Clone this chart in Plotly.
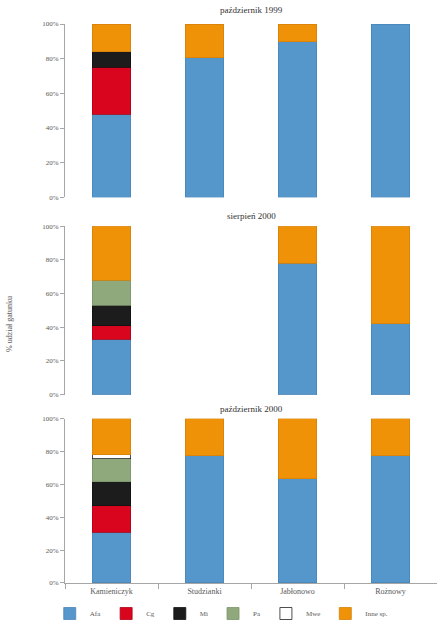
import plotly.graph_objects as go
from plotly.subplots import make_subplots

categories = ["Kamieniczyk", "Studzianki", "Jabłonowo", "Rożnowy"]
series_names = ["Afa", "Cg", "Mi", "Pa", "Mwe", "Inne sp."]
panel_titles = ["październik 1999", "sierpień 2000", "październik 2000"]

# percent values per panel, per series, per category (None = absent)
p1 = {
    "Afa": [48, 80.5, 89.7, 100],
    "Cg": [27, None, None, None],
    "Mi": [9, None, None, None],
    "Pa": [None, None, None, None],
    "Mwe": [None, None, None, None],
    "Inne sp.": [16, 19.5, 10.3, None],
}
p2 = {
    "Afa": [33, None, 78, 42],
    "Cg": [8, None, None, None],
    "Mi": [12, None, None, None],
    "Pa": [15, None, None, None],
    "Mwe": [None, None, None, None],
    "Inne sp.": [32, None, 22, 58],
}
p3 = {
    "Afa": [31, 77.3, 63.3, 77.3],
    "Cg": [16, None, None, None],
    "Mi": [14.5, None, None, None],
    "Pa": [14, None, None, None],
    "Mwe": [2.5, None, None, None],
    "Inne sp.": [22, 22.7, 36.7, 22.7],
}
panels = [p1, p2, p3]
y_ticks = [0, 20, 40, 60, 80, 100]
y_tick_labels = ["0%", "20%", "40%", "60%", "80%", "100%"]

colors = {
    "Afa": "#5596cb",
    "Cg": "#d9041e",
    "Mi": "#1c1c1c",
    "Pa": "#90a97c",
    "Mwe": "#ffffff",
    "Inne sp.": "#ef9207",
}
line_colors = {
    "Afa": "#4a86b8",
    "Cg": "#b00318",
    "Mi": "#111111",
    "Pa": "#7b9468",
    "Mwe": "#222222",
    "Inne sp.": "#d4820a",
}

fig = make_subplots(rows=3, cols=1, vertical_spacing=0.05)

for i, data in enumerate(panels):
    for name in series_names:
        fig.add_trace(
            go.Bar(
                x=categories,
                y=data[name],
                name=name,
                showlegend=(i == 0),
                width=0.41,
                marker=dict(color=colors[name],
                            line=dict(color=line_colors[name], width=0.8)),
            ),
            row=i + 1, col=1,
        )

W, H = 437, 628
L, R, T, B = 65, 0, 24, 43
ph = H - T - B
def py(pix):
    return (H - B - pix) / ph

domains = [[py(198), 1.0], [py(396), py(227)], [0.0, py(420)]]
title_y = [py(10), py(217), py(410)]

font_family = "Liberation Serif"
for i in range(3):
    ax = "" if i == 0 else str(i + 1)
    fig.layout["yaxis" + ax].update(
        domain=domains[i], range=[0, 100], tickvals=y_ticks, ticktext=y_tick_labels,
        showgrid=False, zeroline=False, showline=True, linecolor="#a6a6a6", linewidth=1,
        ticks="outside", ticklen=4, tickcolor="#a6a6a6",
        tickfont=dict(size=7, color="#595959", family=font_family),
    )
    fig.layout["xaxis" + ax].update(
        type="category", categoryorder="array", categoryarray=categories,
        range=[-0.5, 3.5], showgrid=False, zeroline=False,
        showline=(i == 2), linecolor="#a6a6a6", linewidth=1,
        ticks="outside" if i == 2 else "", tickson="boundaries", ticklen=5, tickcolor="#a6a6a6",
        showticklabels=(i == 2),
        tickfont=dict(size=8, color="#595959", family=font_family),
    )
    fig.add_annotation(
        text=panel_titles[i], xref="paper", yref="paper", x=0.5, y=title_y[i],
        showarrow=False, xanchor="center", yanchor="middle",
        font=dict(size=9, color="#333333", family=font_family),
    )

fig.add_annotation(
    text="% udział gatunku", xref="paper", yref="paper",
    x=(10 - L) / (W - L - R), y=py(325), textangle=-90, showarrow=False,
    xanchor="center", yanchor="middle",
    font=dict(size=8, color="#595959", family=font_family),
)

fig.update_layout(
    width=W, height=H, barmode="stack", bargap=0.6,
    margin=dict(l=L, r=R, t=T, b=B),
    paper_bgcolor="white", plot_bgcolor="white",
    legend=dict(orientation="h", x=0.42, xanchor="center", y=py(616), yanchor="middle",
                font=dict(size=7, color="#595959", family=font_family),
                itemwidth=30, traceorder="normal"),
)

fig.write_html("out.html")
